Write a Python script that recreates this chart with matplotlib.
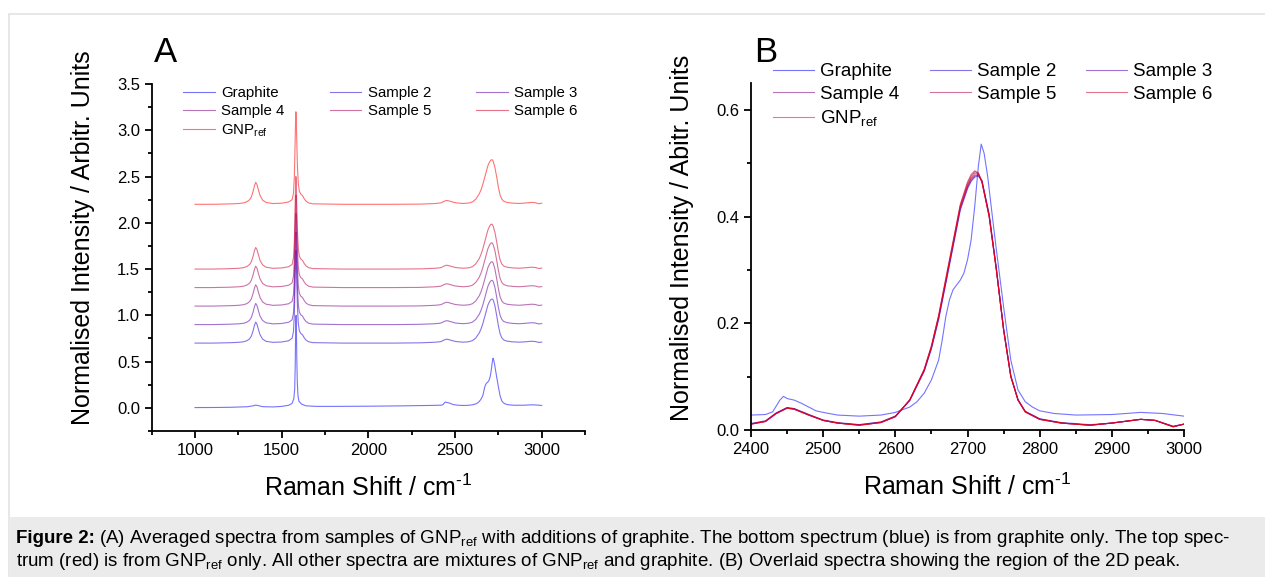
import matplotlib
matplotlib.use("Agg")
import matplotlib.pyplot as plt
from matplotlib.patches import Rectangle
from matplotlib.ticker import MultipleLocator

plt.rcParams['font.family'] = ['Liberation Sans', 'DejaVu Sans']
plt.rcParams['mathtext.fontset'] = 'custom'
plt.rcParams['mathtext.rm'] = 'Liberation Sans'
plt.rcParams['mathtext.it'] = 'Liberation Sans:italic'
plt.rcParams['mathtext.bf'] = 'Liberation Sans:bold'

# ---- data ----
labels = ['Graphite', 'Sample 2', 'Sample 3', 'Sample 4', 'Sample 5', 'Sample 6', r'GNP$_{\rm ref}$']
offsets = [0.0, 0.7, 0.9, 1.1, 1.3, 1.5, 2.2]   # stacking used in panel A

# graphite spectrum
x_graphite = [1000, 1100, 1200, 1300, 1335, 1350, 1365, 1390, 1450, 1500,
              1540, 1560, 1570, 1575, 1578, 1580, 1582, 1583, 1585, 1587,
              1590, 1594, 1600, 1615, 1640, 1700, 1800, 2000, 2200, 2350,
              2400, 2420, 2430, 2440, 2445, 2450, 2460, 2470, 2480, 2490,
              2500, 2520, 2550, 2580, 2600, 2610, 2620, 2630, 2640, 2650,
              2660, 2665, 2670, 2675, 2680, 2690, 2695, 2700, 2705, 2710,
              2715, 2719, 2723, 2728, 2735, 2740, 2750, 2760, 2770, 2780,
              2790, 2800, 2820, 2850, 2900, 2940, 2970, 3000]
graphite = [0.003, 0.004, 0.006, 0.012, 0.022, 0.030, 0.024, 0.013, 0.010, 0.016,
            0.028, 0.048, 0.100, 0.200, 0.450, 0.750, 0.970, 1.000, 0.850, 0.550,
            0.280, 0.130, 0.070, 0.040, 0.022, 0.016, 0.016, 0.018, 0.022, 0.026,
            0.028, 0.029, 0.034, 0.056, 0.063, 0.059, 0.056, 0.050, 0.043, 0.036,
            0.033, 0.028, 0.026, 0.028, 0.033, 0.038, 0.043, 0.053, 0.069, 0.094,
            0.131, 0.169, 0.213, 0.244, 0.263, 0.281, 0.294, 0.319, 0.356, 0.419,
            0.494, 0.536, 0.519, 0.475, 0.394, 0.338, 0.231, 0.131, 0.075, 0.053,
            0.043, 0.036, 0.031, 0.028, 0.029, 0.033, 0.031, 0.026]

# GNP and mixtures share one wavenumber grid
x_mix = [1000, 1100, 1200, 1250, 1280, 1300, 1315, 1325, 1335, 1343,
         1350, 1357, 1365, 1375, 1390, 1410, 1450, 1500, 1540, 1560,
         1568, 1573, 1577, 1580, 1582, 1584, 1587, 1591, 1596, 1602,
         1610, 1620, 1630, 1640, 1655, 1680, 1750, 1850, 2000, 2150,
         2300, 2380, 2400, 2420, 2435, 2450, 2460, 2480, 2500, 2520,
         2550, 2580, 2600, 2620, 2640, 2650, 2660, 2670, 2680, 2690,
         2700, 2705, 2710, 2715, 2720, 2730, 2740, 2750, 2760, 2770,
         2780, 2800, 2830, 2870, 2900, 2940, 2960, 2985, 3000]
sample2 = [0.000, 0.000, 0.004, 0.008, 0.014, 0.026, 0.047, 0.076, 0.133, 0.192,
           0.227, 0.206, 0.153, 0.091, 0.043, 0.019, 0.008, 0.012, 0.025, 0.052,
           0.125, 0.310, 0.630, 0.905, 1.000, 0.925, 0.670, 0.390, 0.210, 0.132,
           0.104, 0.090, 0.057, 0.033, 0.015, 0.005, 0.003, 0.000, 0.000, 0.000,
           0.003, 0.009, 0.012, 0.017, 0.032, 0.042, 0.040, 0.029, 0.019, 0.014,
           0.010, 0.015, 0.026, 0.055, 0.110, 0.152, 0.207, 0.275, 0.343, 0.412,
           0.452, 0.466, 0.474, 0.476, 0.468, 0.405, 0.303, 0.190, 0.102, 0.057,
           0.035, 0.021, 0.014, 0.010, 0.013, 0.020, 0.018, 0.007, 0.011]
sample3 = [0.000, 0.000, 0.004, 0.008, 0.014, 0.027, 0.048, 0.077, 0.135, 0.194,
           0.229, 0.208, 0.155, 0.092, 0.044, 0.019, 0.008, 0.012, 0.025, 0.051,
           0.123, 0.306, 0.626, 0.903, 1.000, 0.927, 0.674, 0.394, 0.214, 0.135,
           0.106, 0.092, 0.058, 0.034, 0.015, 0.005, 0.003, 0.000, 0.000, 0.000,
           0.003, 0.009, 0.012, 0.017, 0.032, 0.042, 0.040, 0.029, 0.018, 0.013,
           0.010, 0.015, 0.026, 0.056, 0.111, 0.154, 0.209, 0.277, 0.346, 0.415,
           0.455, 0.468, 0.476, 0.478, 0.467, 0.403, 0.302, 0.189, 0.101, 0.057,
           0.035, 0.021, 0.013, 0.009, 0.013, 0.020, 0.018, 0.007, 0.011]
sample4 = [0.000, 0.000, 0.004, 0.008, 0.015, 0.027, 0.049, 0.078, 0.137, 0.196,
           0.230, 0.209, 0.156, 0.093, 0.044, 0.020, 0.008, 0.012, 0.025, 0.051,
           0.122, 0.304, 0.624, 0.902, 1.000, 0.928, 0.676, 0.396, 0.216, 0.137,
           0.107, 0.093, 0.059, 0.034, 0.015, 0.005, 0.003, 0.000, 0.000, 0.000,
           0.002, 0.008, 0.011, 0.016, 0.031, 0.041, 0.039, 0.028, 0.018, 0.013,
           0.009, 0.014, 0.025, 0.056, 0.112, 0.155, 0.211, 0.279, 0.348, 0.417,
           0.457, 0.471, 0.478, 0.479, 0.466, 0.402, 0.301, 0.189, 0.101, 0.056,
           0.034, 0.020, 0.013, 0.009, 0.013, 0.020, 0.018, 0.006, 0.011]
sample5 = [0.000, 0.000, 0.004, 0.008, 0.015, 0.028, 0.049, 0.079, 0.138, 0.198,
           0.232, 0.211, 0.157, 0.094, 0.045, 0.020, 0.008, 0.012, 0.025, 0.050,
           0.121, 0.302, 0.622, 0.901, 1.000, 0.929, 0.678, 0.398, 0.218, 0.138,
           0.108, 0.094, 0.060, 0.035, 0.015, 0.005, 0.003, 0.000, 0.000, 0.000,
           0.002, 0.008, 0.011, 0.016, 0.031, 0.041, 0.039, 0.028, 0.018, 0.013,
           0.009, 0.014, 0.025, 0.056, 0.113, 0.157, 0.214, 0.283, 0.352, 0.421,
           0.462, 0.476, 0.484, 0.482, 0.465, 0.401, 0.300, 0.188, 0.100, 0.056,
           0.034, 0.020, 0.013, 0.009, 0.013, 0.020, 0.018, 0.006, 0.011]
sample6 = [0.000, 0.000, 0.004, 0.008, 0.015, 0.028, 0.050, 0.080, 0.139, 0.199,
           0.233, 0.213, 0.159, 0.094, 0.045, 0.020, 0.008, 0.012, 0.025, 0.050,
           0.120, 0.301, 0.621, 0.900, 1.000, 0.929, 0.679, 0.399, 0.219, 0.139,
           0.109, 0.094, 0.060, 0.035, 0.015, 0.005, 0.003, 0.000, 0.000, 0.000,
           0.002, 0.008, 0.011, 0.016, 0.031, 0.041, 0.039, 0.028, 0.018, 0.013,
           0.009, 0.014, 0.025, 0.057, 0.114, 0.158, 0.215, 0.285, 0.354, 0.423,
           0.465, 0.479, 0.486, 0.482, 0.464, 0.400, 0.300, 0.188, 0.100, 0.056,
           0.034, 0.020, 0.013, 0.009, 0.013, 0.020, 0.018, 0.006, 0.011]
gnp_ref = [0.000, 0.000, 0.004, 0.008, 0.015, 0.028, 0.050, 0.080, 0.140, 0.200,
           0.237, 0.215, 0.160, 0.095, 0.045, 0.020, 0.008, 0.012, 0.025, 0.050,
           0.120, 0.300, 0.620, 0.900, 1.000, 0.930, 0.680, 0.400, 0.220, 0.140,
           0.110, 0.095, 0.060, 0.035, 0.015, 0.005, 0.003, 0.000, 0.000, 0.000,
           0.002, 0.008, 0.011, 0.016, 0.031, 0.041, 0.039, 0.028, 0.018, 0.013,
           0.009, 0.014, 0.025, 0.056, 0.113, 0.156, 0.213, 0.281, 0.350, 0.419,
           0.459, 0.473, 0.481, 0.481, 0.466, 0.400, 0.300, 0.188, 0.100, 0.056,
           0.034, 0.020, 0.013, 0.009, 0.013, 0.020, 0.018, 0.006, 0.011]

spectra_x = [x_graphite, x_mix, x_mix, x_mix, x_mix, x_mix, x_mix]
spectra_y = [graphite, sample2, sample3, sample4, sample5, sample6, gnp_ref]
colors = ['#0000ff', '#2a00d5', '#5500aa', '#800080', '#aa0055', '#d5002a', '#ff0000']

W, H = 1265, 577
fig = plt.figure(figsize=(W / 100, H / 100), dpi=100)

# page frame + caption box
fig.patches.append(Rectangle((9 / W, 0), 1, 1 - 14 / H, transform=fig.transFigure,
                             facecolor='white', edgecolor='#e3e3e3', lw=1.2, zorder=-2))
fig.patches.append(Rectangle((9 / W, 0), 1, (H - 517) / H, transform=fig.transFigure,
                             facecolor='#ebebeb', edgecolor='none', zorder=-1))


def style_axes(ax):
    for s in ['top', 'right']:
        ax.spines[s].set_visible(False)
    for s in ['left', 'bottom']:
        ax.spines[s].set_linewidth(1.3)
    ax.tick_params(which='major', direction='out', length=5, width=1.3, labelsize=12)
    ax.tick_params(which='minor', direction='out', length=3, width=1.3)


def add_legend(ax, fs, anchor, hl, tp, cs, ls):
    h, l = ax.get_legend_handles_labels()
    order = [0, 3, 6, 1, 4, 2, 5]
    ax.legend([h[i] for i in order], [l[i] for i in order], ncol=3, frameon=False,
              fontsize=fs, loc='upper left', bbox_to_anchor=anchor,
              bbox_transform=fig.transFigure, borderpad=0, borderaxespad=0,
              handlelength=hl, handletextpad=tp, columnspacing=cs, labelspacing=ls)


xlabel = r'Raman Shift / cm$^{\text{-1}}$'

# ---- panel A: stacked spectra ----
axA = fig.add_axes([151.7 / W, 1 - 431 / H, (585 - 151.7) / W, (431 - 84) / H])
for xs, ys, off, c, lab in zip(spectra_x, spectra_y, offsets, colors, labels):
    axA.plot(xs, [v + off for v in ys], color=c, lw=0.8, alpha=0.55, label=lab)
axA.set_xlim(750, 3250)
axA.set_ylim(-0.25, 3.5)
axA.xaxis.set_minor_locator(MultipleLocator(250))
axA.yaxis.set_major_locator(MultipleLocator(0.5))
axA.yaxis.set_minor_locator(MultipleLocator(0.25))
axA.set_xticks([1000, 1500, 2000, 2500, 3000])
axA.yaxis.set_major_formatter(plt.FuncFormatter(lambda v, p: f'{v:.1f}'))
style_axes(axA)
axA.set_xlabel(xlabel, fontsize=18)
axA.set_ylabel('Normalised Intensity / Arbitr. Units', fontsize=18)
axA.xaxis.set_label_coords(0.5, -0.125)
axA.yaxis.set_label_coords(-0.131, 0.5576)
fig.text(154 / W, 1 - 62 / H, 'A', fontsize=25)
add_legend(axA, 10.8, (183 / W, 1 - 86 / H), 2.1, 0.45, 3.0, 0.28)

# ---- panel B: 2D peak region ----
axB = fig.add_axes([751 / W, 1 - 430 / H, (1184 - 751) / W, (430 - 83.3) / H])
for xs, ys, c, lab in zip(spectra_x, spectra_y, colors, labels):
    axB.plot(xs, ys, color=c, lw=0.8, alpha=0.55, label=lab)
axB.set_xlim(2400, 3000)
axB.set_ylim(0, 0.65)
axB.xaxis.set_major_locator(MultipleLocator(100))
axB.xaxis.set_minor_locator(MultipleLocator(50))
axB.yaxis.set_major_locator(MultipleLocator(0.2))
axB.yaxis.set_minor_locator(MultipleLocator(0.1))
axB.yaxis.set_major_formatter(plt.FuncFormatter(lambda v, p: f'{v:.1f}'))
style_axes(axB)
axB.set_xlabel(xlabel, fontsize=18)
axB.set_ylabel('Normalised Intensity / Abitr. Units', fontsize=18)
axB.xaxis.set_label_coords(0.5, -0.125)
axB.yaxis.set_label_coords(-0.1316, 0.555)
fig.text(754 / W, 1 - 62 / H, 'B', fontsize=25)
add_legend(axB, 13.5, (773 / W, 1 - 63 / H), 2.2, 0.32, 1.6, 0.29)

# ---- caption ----
cap_fs = 13.5
cap1 = (r'(A) Averaged spectra from samples of GNP$_{\rm ref}$ with additions of '
        'graphite. The bottom spectrum (blue) is from graphite only. The top spec-')
cap2 = (r'trum (red) is from GNP$_{\rm ref}$ only. All other spectra are mixtures of GNP$_{\rm ref}$ '
        'and graphite. (B) Overlaid spectra showing the region of the 2D peak.')
t_bold = fig.text(16 / W, 1 - 543 / H, 'Figure 2:', fontsize=cap_fs, fontweight='bold', va='baseline')
renderer = fig.canvas.get_renderer()
bb = t_bold.get_window_extent(renderer)
fig.text(bb.x1 / W + 4 / W, 1 - 543 / H, cap1, fontsize=cap_fs, va='baseline')
fig.text(16 / W, 1 - 566 / H, cap2, fontsize=cap_fs, va='baseline')

fig.savefig('out.png', dpi=100)
